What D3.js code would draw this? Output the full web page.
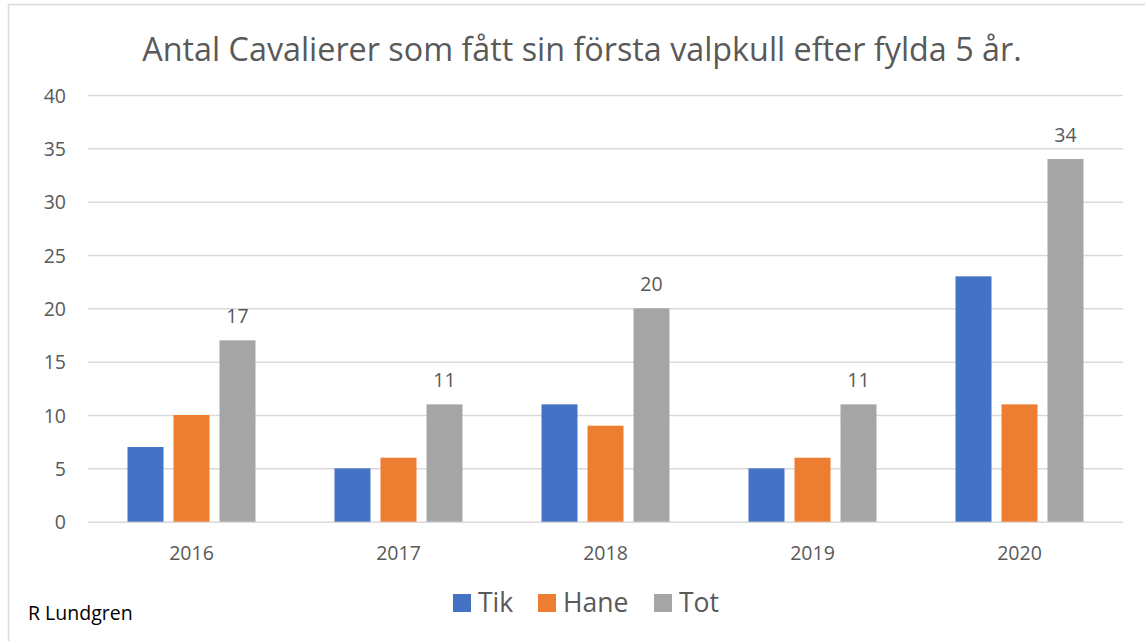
<!DOCTYPE html>
<html><head><meta charset="utf-8">
<script src="https://cdn.jsdelivr.net/npm/d3@7"></script>
<style>body{margin:0;background:#fff}svg{display:block}</style>
</head><body>
<svg id="c" width="1145" height="641"></svg>
<script>
const categories = ["2016","2017","2018","2019","2020"];
const seriesNames = ["Tik","Hane","Tot"];
const tik  = [7,5,11,5,23];
const hane = [10,6,9,6,11];
const tot  = [17,11,20,11,34];
const yTicks = [0,5,10,15,20,25,30,35,40];
const colors = ["#4472C4","#ED7D31","#A5A5A5"];
const title = "Antal Cavalierer som fått sin första valpkull efter fylda 5 år.";

(function(){
const values = [tik, hane, tot];
const svg = d3.select("#c");
const font = "'Open Sans', 'Liberation Sans', sans-serif";
const txt = "#595959";

svg.append("rect").attr("x",8.5).attr("y",4.5).attr("width",1145).attr("height",650)
  .attr("fill","#fff").attr("stroke","#D9D9D9").attr("stroke-width",1.5);

const pL = 88, pR = 1123, pT = 95, pB = 521.7;
const x0 = d3.scaleBand().domain(categories).range([pL,pR]).paddingInner(79/207).paddingOuter(79/414);
const x1 = d3.scaleBand().domain(seriesNames).range([0,x0.bandwidth()]).paddingInner(10/46).paddingOuter(0);
const y = d3.scaleLinear().domain([0,40]).range([pB,pT]);

const yAxis = d3.axisLeft(y).tickValues(yTicks).tickSize(-(pR-pL)).tickPadding(22);
const ga = svg.append("g").attr("transform",`translate(${pL},0)`).call(yAxis);
ga.select(".domain").remove();
ga.selectAll("line").attr("stroke","#D9D9D9").attr("stroke-width",1.5);
ga.selectAll("text").attr("fill",txt).style("font-family",font).style("font-size","19.5px").attr("dy","0.36em");

const xAxis = d3.axisBottom(x0).tickSize(0);
const gx = svg.append("g").attr("transform",`translate(0,${pB})`).call(xAxis);
gx.select(".domain").remove();
gx.selectAll("text").attr("fill",txt).style("font-family",font).style("font-size","19.5px")
  .attr("y",38.5).attr("dy",0);

const groups = svg.append("g").selectAll("g").data(categories).join("g")
  .attr("transform",d=>`translate(${x0(d)},0)`);
groups.selectAll("rect").data((d,i)=>seriesNames.map((s,j)=>({s,j,v:values[j][i]}))).join("rect")
  .attr("x",d=>x1(d.s)).attr("width",x1.bandwidth())
  .attr("y",d=>y(d.v)).attr("height",d=>y(0)-y(d.v))
  .attr("fill",d=>colors[d.j]);

svg.append("g").selectAll("text").data(categories).join("text")
  .attr("x",d=>x0(d)+x1("Tot")+x1.bandwidth()/2)
  .attr("y",(d,i)=>y(tot[i])-17)
  .attr("text-anchor","middle").attr("fill",txt)
  .style("font-family",font).style("font-size","19.5px")
  .text((d,i)=>tot[i]);

svg.append("text").attr("x",582).attr("y",61).attr("text-anchor","middle")
  .attr("fill",txt).style("font-family",font).style("font-size","32.3px").text(title);

const legX = [453,538,654];
const leg = svg.append("g").selectAll("g").data(seriesNames).join("g")
  .attr("transform",(d,i)=>`translate(${legX[i]},0)`);
leg.append("rect").attr("x",0).attr("y",594).attr("width",18).attr("height",18).attr("fill",(d,i)=>colors[i]);
leg.append("text").attr("x",25).attr("y",612).attr("fill",txt)
  .style("font-family",font).style("font-size","26.5px").text(d=>d);

svg.append("text").attr("x",28).attr("y",620).attr("fill","#000")
  .style("font-family",font).style("font-size","19.5px").text("R Lundgren");
})();
</script>
</body></html>
